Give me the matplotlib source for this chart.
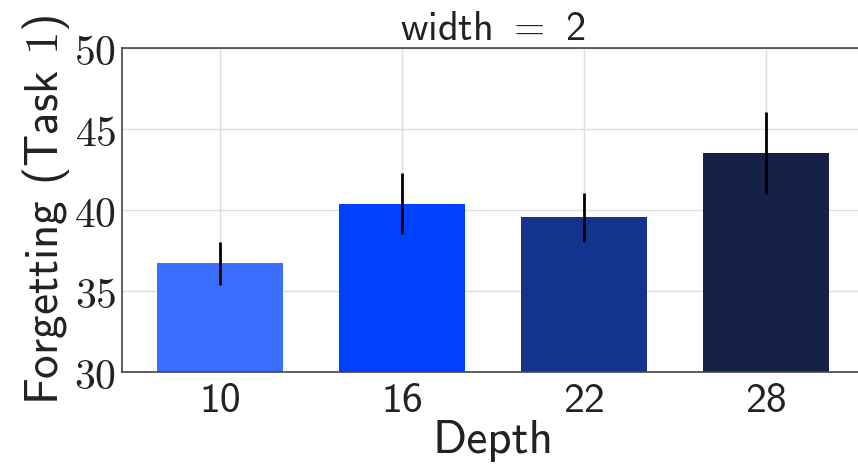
import matplotlib
matplotlib.use("Agg")
import matplotlib.pyplot as plt
import numpy as np

plt.rcParams['mathtext.fontset'] = 'cm'

depths = ["10", "16", "22", "28"]
forgetting = [36.7, 40.4, 39.55, 43.5]
errors = [1.3, 1.87, 1.5, 2.52]
colors = ["#3b6eff", "#0040ff", "#13338f", "#16214a"]
yticks = [30, 35, 40, 45, 50]

TXT = '#222222'
SANS = ['cmss10', 'DejaVu Sans']

fig = plt.figure(figsize=(8.58, 4.73), dpi=100)
ax = fig.add_axes([122/858, 101/473, (864-122)/858, (372-48)/473])

x = np.arange(len(depths))
ax.bar(x, forgetting, width=0.69, color=colors, zorder=2)
ax.errorbar(x, forgetting, yerr=errors, fmt='none', ecolor='black', elinewidth=2, capsize=0, zorder=3)

ax.set_xlim(-0.54, 3.54)
ax.set_ylim(30, 50)
ax.set_yticks(yticks)
ax.set_yticklabels([f"${v}$" for v in yticks], fontsize=30, color=TXT)
ax.set_xticks(x)
ax.set_xticklabels(depths, fontsize=30, color=TXT, family=SANS)
ax.tick_params(axis='x', length=0, pad=8)
ax.tick_params(axis='y', length=0, pad=4)
ax.grid(True, color='#dddddd', linewidth=1, zorder=0)
ax.set_axisbelow(True)
for s in ['left', 'bottom', 'top']:
    ax.spines[s].set_color('#444444')
    ax.spines[s].set_linewidth(1.2)
ax.spines['right'].set_visible(False)

ax.set_xlabel("Depth", fontsize=34, color=TXT, labelpad=0, family=SANS)
ax.set_ylabel("Forgetting (Task $1$)", fontsize=34, color=TXT, labelpad=2, family=SANS)
ax.set_title("width $=$ 2", fontsize=29, color=TXT, pad=6, family=SANS)

fig.savefig("out.png", dpi=100)
